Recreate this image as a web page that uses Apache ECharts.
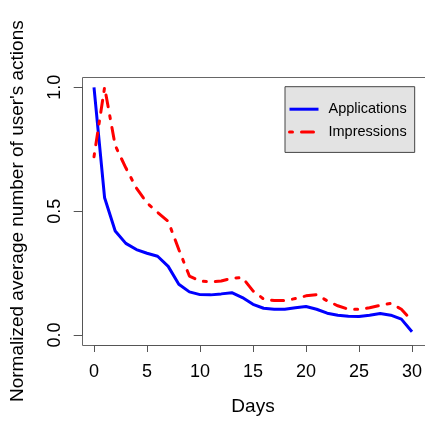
<!DOCTYPE html>
<html><head><meta charset="utf-8">
<script src="https://cdn.jsdelivr.net/npm/echarts@6/dist/echarts.min.js"></script>
<style>html,body{margin:0;padding:0;background:#fff}#c{width:425px;height:421px}</style>
</head><body><div id="c"></div>
<script>
var days = [0,1,2,3,4,5,6,7,8,9,10,11,12,13,14,15,16,17,18,19,20,21,22,23,24,25,26,27,28,29,30];
var applications = [1.0,0.554,0.42,0.37,0.345,0.33,0.318,0.277,0.205,0.174,0.163,0.162,0.166,0.171,0.151,0.124,0.108,0.104,0.104,0.11,0.115,0.104,0.088,0.08,0.076,0.075,0.08,0.087,0.08,0.064,0.013];
var impressions = [0.72,1.0,0.765,0.675,0.593,0.533,0.495,0.459,0.345,0.238,0.218,0.214,0.218,0.229,0.232,0.178,0.145,0.139,0.139,0.147,0.158,0.163,0.138,0.118,0.104,0.104,0.11,0.12,0.128,0.104,0.057];
var xTicks = [0,5,10,15,20,25,30];
var yTickLabels = ['0.0','0.5','1.0'];
var seriesNames = ['Applications','Impressions'];

function pairs(xs, ys){ return xs.map(function(x,i){return [x, ys[i]];}); }
var FONT = '"Liberation Sans", Arial, Helvetica, sans-serif';
var chart = echarts.init(document.getElementById('c'), null, {renderer:'canvas'});
chart.setOption({
  animation:false,
  backgroundColor:'#fff',
  grid:{left:94, right:12.3, top:87.3, bottom:85},
  xAxis:{type:'value', min:0, max:30, interval:5, offset:10,
    axisLine:{show:true, onZero:false, lineStyle:{color:'#555', width:1}},
    axisTick:{show:true, length:7, lineStyle:{color:'#555'}},
    axisLabel:{margin:18, color:'#000', fontSize:18, fontFamily:FONT,
      formatter:function(v){return xTicks.indexOf(v)>=0 ? String(v) : '';}},
    splitLine:{show:false},
    name:'Days', nameLocation:'middle', nameGap:52,
    nameTextStyle:{color:'#000', fontSize:19, fontFamily:FONT}},
  yAxis:{type:'value', min:0, max:1, interval:0.5, offset:11.3,
    axisLine:{show:true, onZero:false, lineStyle:{color:'#555', width:1}},
    axisTick:{show:true, length:9, lineStyle:{color:'#555'}},
    axisLabel:{margin:19, rotate:90, color:'#000', fontSize:18, fontFamily:FONT,
      formatter:function(v){return yTickLabels[Math.round(v*2)];}},
    splitLine:{show:false},
    name:"Normalized average number of user's actions", nameLocation:'middle', nameGap:55,
    nameTextStyle:{color:'#000', fontSize:19, fontFamily:FONT}},
  legend:{orient:'vertical', left:285, top:86.7,
    backgroundColor:'#e3e3e3', borderColor:'#444', borderWidth:1, borderRadius:0,
    padding:[15,8,13,3], itemGap:7.7, itemWidth:29, itemHeight:14,
    itemStyle:{opacity:0},
    lineStyle:{width:3},
    textStyle:{color:'#000', fontSize:14.5, fontFamily:FONT, padding:[0,0,0,5]},
    data:seriesNames},
  graphic:[{type:'rect', z:0, shape:{x:82.5, y:77.5, width:345, height:268},
    style:{fill:null, stroke:'#666', lineWidth:1}}],
  series:[
    {name:seriesNames[0], type:'line', data:pairs(days, applications), showSymbol:false, symbol:'none',
      lineStyle:{color:'#0000ff', width:3}, itemStyle:{color:'#0000ff'}},
    {name:seriesNames[1], type:'line', data:pairs(days, impressions), showSymbol:false, symbol:'none',
      lineStyle:{color:'#ff0000', width:3, type:[3,9,12,9], cap:'round'}, itemStyle:{color:'#ff0000'}}
  ]
});
</script></body></html>
